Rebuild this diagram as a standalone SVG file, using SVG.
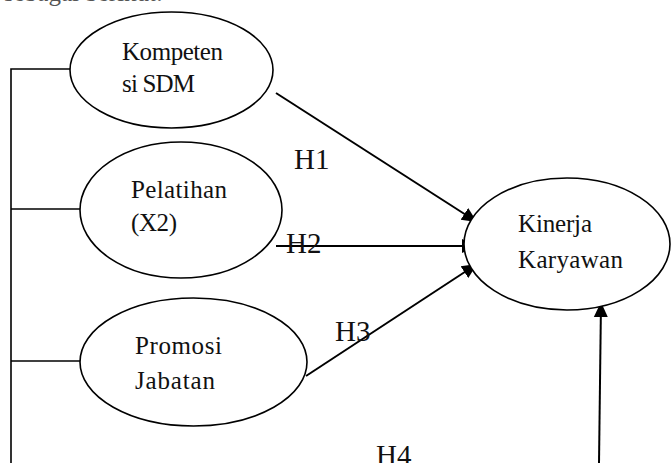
<svg xmlns="http://www.w3.org/2000/svg" width="671" height="463" viewBox="0 0 671 463">
<defs>
<marker id="ah" markerUnits="userSpaceOnUse" markerWidth="16" markerHeight="16" viewBox="0 0 16 16" refX="15" refY="8" orient="auto">
<path d="M0,1 L15,8 L0,15 Z" fill="#000"/>
</marker>
<style>
.node ellipse{fill:#fff;stroke:#000;stroke-width:1.6}
.t{font-family:"Liberation Serif","Times New Roman",serif;font-size:25px;fill:#111}
.h{font-family:"Liberation Serif","Times New Roman",serif;font-size:29px;fill:#111}
.ln{stroke:#000;stroke-width:1.6;fill:none}
.ar{stroke:#000;stroke-width:2;fill:none;marker-end:url(#ah)}
</style>
</defs>
<rect width="671" height="463" fill="#fff"/>
<text class="t" x="4" y="1" style="fill:#555">sebagai berikut:</text>
<g id="connectors">
<path class="ln" d="M11,463 L11,69 L70,69"/>
<path class="ln" d="M11,209 L80,209"/>
<path class="ln" d="M11,361 L80,361"/>
<line class="ar" x1="276" y1="93" x2="477" y2="222"/>
<line class="ar" x1="276" y1="246" x2="477" y2="246"/>
<line class="ar" x1="306" y1="376" x2="477" y2="264"/>
<line class="ar" x1="599" y1="463" x2="601" y2="302"/>
</g>
<g id="labels">
<text class="h" x="294" y="169">H1</text>
<text class="h" x="286" y="253">H2</text>
<text class="h" x="335" y="341">H3</text>
<text class="h" x="376" y="465">H4</text>
</g>
<g id="kompetensi" class="node">
<ellipse cx="171.5" cy="70" rx="101.5" ry="58"/>
<text class="t" x="122" y="60" textLength="101">Kompeten</text>
<text class="t" x="122" y="92" textLength="73">si SDM</text>
</g>
<g id="pelatihan" class="node">
<ellipse cx="181" cy="210" rx="101" ry="68"/>
<text class="t" x="131" y="198" textLength="96">Pelatihan</text>
<text class="t" x="131" y="231" textLength="46">(X2)</text>
</g>
<g id="promosi" class="node">
<ellipse cx="193.5" cy="362" rx="113.5" ry="64"/>
<text class="t" x="135" y="354" textLength="87">Promosi</text>
<text class="t" x="135" y="389" textLength="80">Jabatan</text>
</g>
<g id="kinerja" class="node">
<ellipse cx="567" cy="244" rx="103" ry="66"/>
<text class="t" x="518" y="232" textLength="74">Kinerja</text>
<text class="t" x="518" y="268" textLength="105">Karyawan</text>
</g>
</svg>
